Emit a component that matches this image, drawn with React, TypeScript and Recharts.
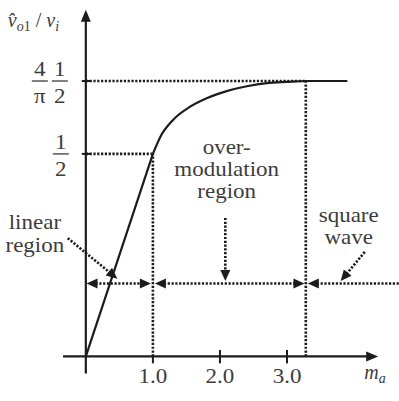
import { ComposedChart, Line, XAxis, YAxis, ReferenceLine, ReferenceDot } from "recharts";

// curve: linear region then over-modulation region, flat in square wave region
const linearPts = [
  { x: 0, y: 0 },
  { x: 1.0, y: 0.5 },
];
const curvePts = [
  { x: 1.0, y: 0.5 },
  { x: 1.11, y: 0.542 },
  { x: 1.3, y: 0.584 },
  { x: 1.55, y: 0.616 },
  { x: 1.81, y: 0.638 },
  { x: 2.1, y: 0.655 },
  { x: 2.4, y: 0.667 },
  { x: 2.7, y: 0.675 },
  { x: 3.0, y: 0.678 },
  { x: 3.28, y: 0.68 },
  { x: 3.9, y: 0.68 },
];

const xTicks = [1.0, 2.0, 3.0];
const xTickLabels = ["1.0", "2.0", "3.0"];
const halfLevel = 0.5;
const topLevel = 0.68;
const squareStart = 3.28;
const arrowRow = 0.18;

const INK = "#1c1c1c";
const TEXT = "#3c3c3c";
const FONT = "'Liberation Serif', 'Times New Roman', serif";

type ArrowOpts = { start?: boolean; end?: boolean; dashed?: boolean; width?: number; head?: number; half?: number };

function arrowShape(o: ArrowOpts) {
  return (p: any) => {
    const { x1, y1, x2, y2 } = p;
    const dx = x2 - x1;
    const dy = y2 - y1;
    const len = Math.sqrt(dx * dx + dy * dy) || 1;
    const ux = dx / len;
    const uy = dy / len;
    const h = o.head ?? 11;
    const w = o.half ?? 5;
    const head = (tx: number, ty: number, sx: number, sy: number) => {
      const bx = tx - sx * h;
      const by = ty - sy * h;
      return `${tx},${ty} ${bx - sy * w},${by + sx * w} ${bx + sy * w},${by - sx * w}`;
    };
    const lx1 = o.start ? x1 + ux * (h - 2) : x1;
    const ly1 = o.start ? y1 + uy * (h - 2) : y1;
    const lx2 = o.end ? x2 - ux * (h - 2) : x2;
    const ly2 = o.end ? y2 - uy * (h - 2) : y2;
    return (
      <g>
        <line
          x1={lx1}
          y1={ly1}
          x2={lx2}
          y2={ly2}
          stroke={INK}
          strokeWidth={o.width ?? 2.6}
          strokeDasharray={o.dashed ? "2.2 1.6" : undefined}
        />
        {o.end && <polygon points={head(x2, y2, ux, uy)} fill={INK} />}
        {o.start && <polygon points={head(x1, y1, -ux, -uy)} fill={INK} />}
      </g>
    );
  };
}

function SText({ x, y, anchor = "middle", size = 20, italic = false, children }: any) {
  return (
    <text
      transform={`translate(${x},${y}) scale(1.15,1)`}
      textAnchor={anchor}
      fontFamily={FONT}
      fontSize={size}
      fontStyle={italic ? "italic" : "normal"}
      fill={TEXT}
    >
      {children}
    </text>
  );
}

function textBlock(lines: string[], gap = 22) {
  return (p: any) => (
    <g>
      {lines.map((t, i) => (
        <SText key={i} x={p.cx} y={p.cy + 7 + i * gap}>
          {t}
        </SText>
      ))}
    </g>
  );
}

function fraction(cx: number, cy: number, num: string, den: string, key: string) {
  return (
    <g key={key}>
      <SText x={cx} y={cy - 5}>{num}</SText>
      <line x1={cx - 8} y1={cy} x2={cx + 8} y2={cy} stroke={TEXT} strokeWidth={1.3} />
      <SText x={cx} y={cy + 22}>{den}</SText>
    </g>
  );
}

export default function App() {
  return (
    <div style={{ position: "absolute", left: 0, top: 0, background: "#fff" }}>
      <ComposedChart width={399} height={401} margin={{ top: 0, right: 0, bottom: 0, left: 0 }}>
        <XAxis type="number" dataKey="x" domain={[-1.28, 4.67]} hide allowDataOverflow />
        <YAxis type="number" dataKey="y" domain={[-0.11, 0.88]} hide allowDataOverflow />

        {/* dotted guide lines */}
        <ReferenceLine segment={[{ x: 0, y: halfLevel }, { x: 1.0, y: halfLevel }]} shape={arrowShape({ dashed: true })} />
        <ReferenceLine segment={[{ x: 1.0, y: 0 }, { x: 1.0, y: halfLevel }]} shape={arrowShape({ dashed: true })} />
        <ReferenceLine segment={[{ x: 0, y: topLevel }, { x: squareStart, y: topLevel }]} shape={arrowShape({ dashed: true })} />
        <ReferenceLine segment={[{ x: squareStart, y: 0 }, { x: squareStart, y: topLevel }]} shape={arrowShape({ dashed: true })} />

        {/* region arrows */}
        <ReferenceLine segment={[{ x: 0.01, y: arrowRow }, { x: 0.97, y: arrowRow }]} shape={arrowShape({ dashed: true, start: true, end: true })} />
        <ReferenceLine segment={[{ x: 1.03, y: arrowRow }, { x: 3.26, y: arrowRow }]} shape={arrowShape({ dashed: true, start: true, end: true })} />
        <ReferenceLine segment={[{ x: 3.31, y: arrowRow }, { x: 4.67, y: arrowRow }]} shape={arrowShape({ dashed: true, start: true })} />
        <ReferenceLine segment={[{ x: -0.27, y: 0.292 }, { x: 0.47, y: 0.192 }]} shape={arrowShape({ dashed: true, end: true })} />
        <ReferenceLine segment={[{ x: 2.08, y: 0.342 }, { x: 2.08, y: 0.186 }]} shape={arrowShape({ dashed: true, end: true })} />
        <ReferenceLine segment={[{ x: 4.16, y: 0.258 }, { x: 3.8, y: 0.186 }]} shape={arrowShape({ dashed: true, end: true })} />

        {/* axes */}
        <ReferenceLine segment={[{ x: -0.34, y: 0 }, { x: 4.36, y: 0 }]} shape={arrowShape({ end: true, head: 12, half: 5, width: 2.2 })} />
        <ReferenceLine segment={[{ x: 0, y: -0.042 }, { x: 0, y: 0.856 }]} shape={arrowShape({ end: true, head: 12, half: 5, width: 2.2 })} />
        {xTicks.map((t, i) => (
          <ReferenceLine
            key={"xt" + t}
            segment={[{ x: t, y: -0.017 }, { x: t, y: i === 0 ? 0 : 0.016 }]}
            shape={arrowShape({ width: 2 })}
            label={(p: any) => (
              <SText x={p.viewBox.x} y={p.viewBox.y + p.viewBox.height + 20}>
                {xTickLabels[i]}
              </SText>
            )}
          />
        ))}
        {[halfLevel, topLevel].map((v) => (
          <ReferenceLine key={"yt" + v} segment={[{ x: -0.06, y: v }, { x: 0.07, y: v }]} shape={arrowShape({ width: 2 })} />
        ))}

        {/* y tick labels as fractions */}
        <ReferenceDot x={0} y={topLevel} r={0} shape={(p: any) => (
          <g>
            {fraction(p.cx - 46, p.cy, "4", "π", "a")}
            {fraction(p.cx - 26, p.cy, "1", "2", "b")}
          </g>
        )} />
        <ReferenceDot x={0} y={halfLevel} r={0} shape={(p: any) => fraction(p.cx - 25, p.cy, "1", "2", "c")} />

        {/* axis titles */}
        <ReferenceDot x={0} y={0.856} r={0} shape={(p: any) => (
          <text x={p.cx - 78} y={p.cy + 17} fontFamily={FONT} fontSize={20} fill={TEXT}>
            <tspan fontStyle="italic">v̂</tspan>
            <tspan fontStyle="italic" fontSize={14} dy={4}>o</tspan>
            <tspan fontSize={14}>1</tspan>
            <tspan dy={-4}> / </tspan>
            <tspan fontStyle="italic">v</tspan>
            <tspan fontStyle="italic" fontSize={14} dy={4}>i</tspan>
          </text>
        )} />
        <ReferenceDot x={4.36} y={0} r={0} shape={(p: any) => (
          <text x={p.cx - 14} y={p.cy + 23} fontFamily={FONT} fontSize={20} fill={TEXT} fontStyle="italic">
            m<tspan fontSize={14} dy={4}>a</tspan>
          </text>
        )} />

        {/* region labels */}
        <ReferenceDot x={-0.76} y={0.331} r={0} shape={textBlock(["linear", "region"], 23)} />
        <ReferenceDot x={2.1} y={0.517} r={0} shape={textBlock(["over-", "modulation", "region"], 22)} />
        <ReferenceDot x={3.92} y={0.349} r={0} shape={textBlock(["square", "wave"], 22)} />

        <Line data={linearPts} dataKey="y" type="linear" stroke={INK} strokeWidth={2.2} dot={false} activeDot={false} isAnimationActive={false} />
        <Line data={curvePts} dataKey="y" type="monotone" stroke={INK} strokeWidth={2.2} dot={false} activeDot={false} isAnimationActive={false} />
      </ComposedChart>
    </div>
  );
}
